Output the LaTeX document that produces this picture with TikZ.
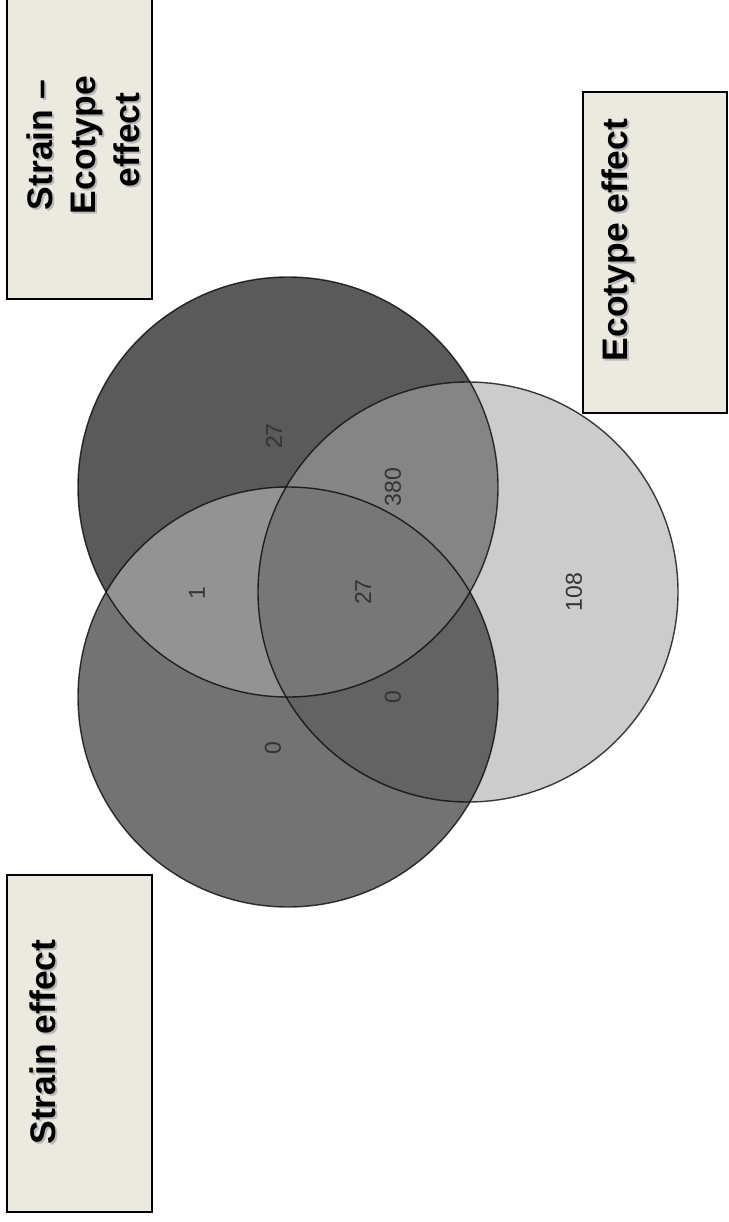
\documentclass[tikz,border=0pt]{standalone}
\usepackage{fontspec}
\setmainfont{Liberation Sans}
\definecolor{cA}{HTML}{737373}
\definecolor{cB}{HTML}{5A5A5A}
\definecolor{cC}{HTML}{CCCCCC}
\definecolor{cAB}{HTML}{939393}
\definecolor{cAC}{HTML}{636363}
\definecolor{cBC}{HTML}{858585}
\definecolor{cABC}{HTML}{777777}
\definecolor{boxfill}{HTML}{ECEAE0}
\definecolor{numgray}{HTML}{333333}
\begin{document}
\begin{tikzpicture}[x=1pt,y=-1pt,
  labelbox/.style={draw=black,line width=2pt,fill=boxfill,inner sep=0pt},
  boxtext/.style={font=\fontsize{35.5}{42}\selectfont\bfseries,rotate=90,anchor=base,inner sep=0pt,text=black},
  boxshadow/.style={font=\fontsize{35.5}{42}\selectfont\bfseries,rotate=90,anchor=base,inner sep=0pt,text=black!28},
  count/.style={font=\fontsize{23}{27}\selectfont,rotate=90,text=numgray,inner sep=0pt},
  outline/.style={draw=black,draw opacity=0.75,line width=1.4pt}]
\useasboundingbox (0,0) rectangle (728,1222);
\fill[white] (0,0) rectangle (728,1222);
% circle centres
\coordinate (A) at (288,697);
\coordinate (B) at (288,487);
\coordinate (C) at (468,592);
\def\R{210}
% single fills
\fill[cA] (A) circle[radius=\R];
\fill[cB] (B) circle[radius=\R];
\fill[cC] (C) circle[radius=\R];
% pairwise overlaps
\begin{scope}
  \clip (A) circle[radius=\R];
  \fill[cAB] (B) circle[radius=\R];
\end{scope}
\begin{scope}
  \clip (A) circle[radius=\R];
  \fill[cAC] (C) circle[radius=\R];
\end{scope}
\begin{scope}
  \clip (B) circle[radius=\R];
  \fill[cBC] (C) circle[radius=\R];
\end{scope}
% triple overlap
\begin{scope}
  \clip (A) circle[radius=\R];
  \clip (B) circle[radius=\R];
  \fill[cABC] (C) circle[radius=\R];
\end{scope}
% outlines
\draw[outline] (A) circle[radius=\R];
\draw[outline] (B) circle[radius=\R];
\draw[outline] (C) circle[radius=\R];
% counts
\node[count] (nB)   at (274,436) {27};
\node[count] (nBC)  at (393,487) {380};
\node[count] (nAB)  at (197,593) {1};
\node[count] (nABC) at (363,592) {27};
\node[count] (nAC)  at (393,697) {0};
\node[count] (nA)   at (273,748) {0};
\node[count] (nC)   at (574,592) {108};
% label boxes
\node[labelbox,minimum width=145pt,minimum height=302pt] (sebox) at (79.5,148) {};
\node[labelbox,minimum width=145pt,minimum height=337pt] (sbox) at (79.5,1043.5) {};
\node[labelbox,minimum width=144pt,minimum height=321pt] (ebox) at (655,252.5) {};
% label texts (with soft shadow)
\node[boxshadow] at (54,147) {Strain –};
\node[boxshadow] at (97,147) {Ecotype};
\node[boxshadow] at (141,142) {effect};
\node[boxtext] (se1) at (52,145) {Strain –};
\node[boxtext] (se2) at (95,145) {Ecotype};
\node[boxtext] (se3) at (139,140) {effect};
\node[boxshadow] at (57,1044) {Strain effect};
\node[boxtext] (st) at (55,1042) {Strain effect};
\node[boxshadow] at (629,242) {Ecotype effect};
\node[boxtext] (ec) at (627,240) {Ecotype effect};
\end{tikzpicture}
\end{document}
